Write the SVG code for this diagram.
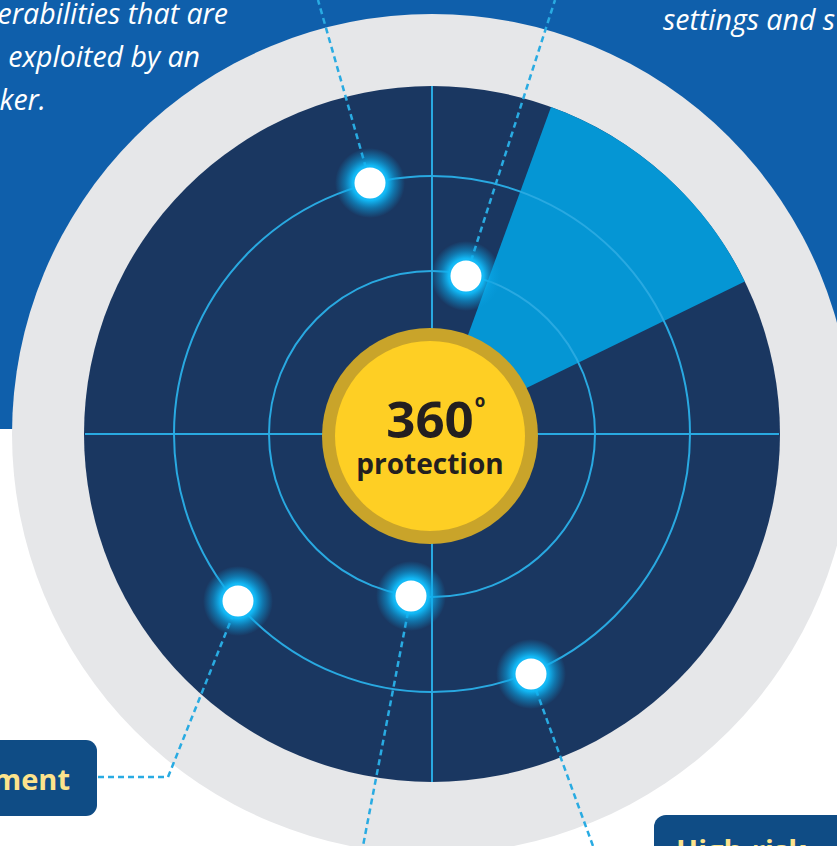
<svg xmlns="http://www.w3.org/2000/svg" width="837" height="846" viewBox="0 0 837 846">
  <defs>
    <style>
      .note { font-family: "Open Sans", "Noto Sans", sans-serif; font-style: italic; font-size: 28.5px; fill: #ffffff; }
      .ring { fill: none; stroke: #29a9e1; stroke-width: 2; }
      .cross { stroke: #29a9e1; stroke-width: 2; }
      .conn { fill: none; stroke: #29abe2; stroke-width: 2.5; stroke-dasharray: 6 4; }
      .dot { fill: #ffffff; }
      .label-box { fill: #0f4c85; }
      .label-text { font-family: "Open Sans", "Noto Sans", sans-serif; font-weight: 700; font-size: 29px; fill: #fce38c; }
      .center-text { font-family: "Open Sans", "Noto Sans", sans-serif; font-weight: 700; fill: #231f20; text-anchor: middle; }
    </style>
    <radialGradient id="glow" cx="0.5" cy="0.5" r="0.5">
      <stop offset="0" stop-color="#3fd0ff" stop-opacity="1"/>
      <stop offset="0.5" stop-color="#12b8f5" stop-opacity="1"/>
      <stop offset="0.72" stop-color="#0aa6e6" stop-opacity="0.55"/>
      <stop offset="1" stop-color="#0a9fe0" stop-opacity="0"/>
    </radialGradient>
  </defs>

  <g id="background">
    <rect x="0" y="0" width="837" height="846" fill="#ffffff"/>
    <rect x="0" y="0" width="837" height="429" fill="#0f5fab"/>
    <text class="note" x="228" y="24" text-anchor="end">erabilities that are</text>
    <text class="note" x="200" y="67" text-anchor="end">exploited by an</text>
    <text class="note" x="46" y="110" text-anchor="end">ker.</text>
    <text class="note" x="663" y="30">settings and s</text>
  </g>

  <g id="radar">
    <circle cx="432" cy="434" r="420" fill="#e6e7e9"/>
    <circle cx="432" cy="434" r="348" fill="#1a3761"/>
    <path d="M432,434 L551,107 A348,348 0 0,1 744.8,281.4 Z" fill="#0596d4"/>
    <circle class="ring" cx="432" cy="434" r="163"/>
    <circle class="ring" cx="432" cy="434" r="258"/>
    <line class="cross" x1="85" y1="434" x2="779" y2="434"/>
    <line class="cross" x1="432" y1="86" x2="432" y2="782"/>
  </g>

  <g id="connectors">
    <line class="conn" x1="366" y1="168" x2="318" y2="0"/>
    <line class="conn" x1="471" y1="261" x2="555" y2="0"/>
    <polyline class="conn" points="98,777 168,777 233,615"/>
    <line class="conn" x1="408" y1="612" x2="363" y2="846"/>
    <line class="conn" x1="536" y1="690" x2="593" y2="846"/>
  </g>

  <g id="node-1">
    <circle cx="370" cy="183" r="35" fill="url(#glow)"/>
    <circle class="dot" cx="370" cy="183" r="15.5"/>
  </g>
  <g id="node-2">
    <circle cx="466" cy="276" r="35" fill="url(#glow)"/>
    <circle class="dot" cx="466" cy="276" r="15.5"/>
  </g>
  <g id="node-3">
    <circle cx="238" cy="601" r="35" fill="url(#glow)"/>
    <circle class="dot" cx="238" cy="601" r="15.5"/>
  </g>
  <g id="node-4">
    <circle cx="411" cy="596" r="35" fill="url(#glow)"/>
    <circle class="dot" cx="411" cy="596" r="15.5"/>
  </g>
  <g id="node-5">
    <circle cx="531" cy="674" r="35" fill="url(#glow)"/>
    <circle class="dot" cx="531" cy="674" r="15.5"/>
  </g>

  <g id="center">
    <circle cx="430" cy="436" r="108" fill="#c9a42a"/>
    <circle cx="430" cy="436" r="95" fill="#fecf24"/>
    <text class="center-text" x="430" y="438" font-size="51">360</text>
    <text class="center-text" x="480" y="407" font-size="17">o</text>
    <text class="center-text" x="430" y="474" font-size="28">protection</text>
  </g>

  <g id="label-left">
    <rect class="label-box" x="-20" y="740" width="117" height="76" rx="11"/>
    <text class="label-text" x="70" y="790" text-anchor="end">ment</text>
  </g>

  <g id="label-right">
    <rect class="label-box" x="654" y="815" width="220" height="80" rx="12"/>
    <text class="label-text" x="676" y="861">High-risk</text>
  </g>
</svg>
